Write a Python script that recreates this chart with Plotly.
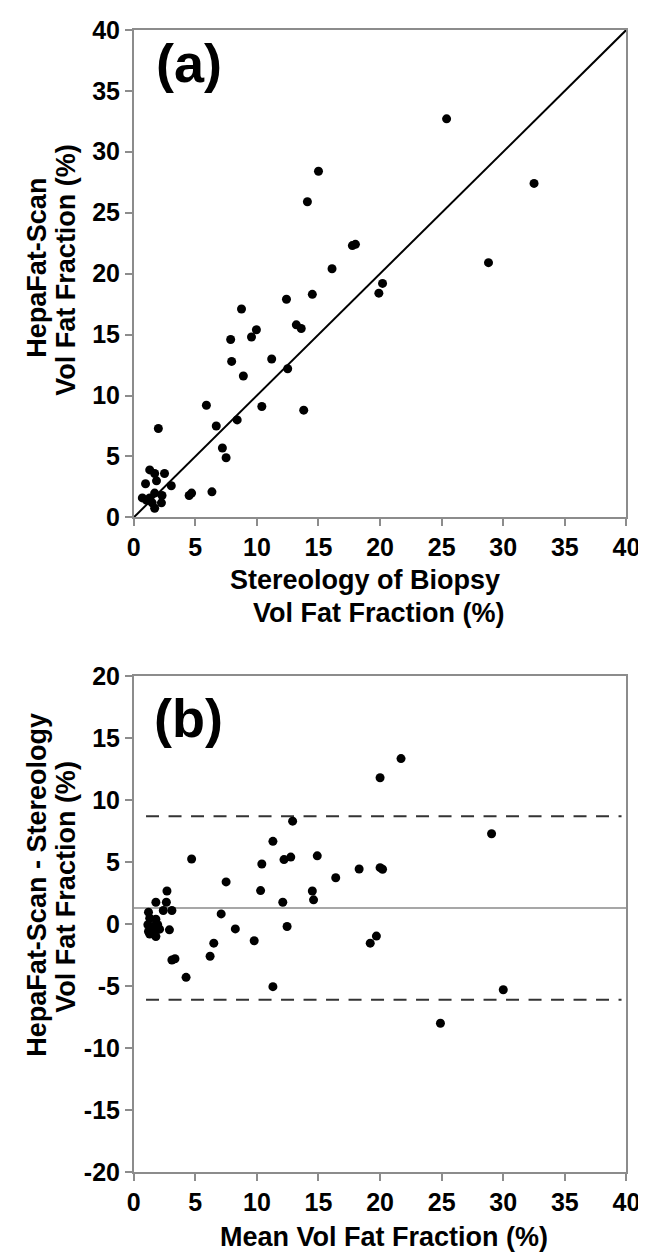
import plotly.graph_objects as go

# Panel (a): Stereology of biopsy (x) vs HepaFat-Scan (y), vol fat fraction %
stereology = [25.4, 32.5, 15.0, 14.1, 17.75, 18.0, 16.1, 28.8, 20.2, 19.9,
              8.75, 12.4, 14.5, 13.2, 13.6, 9.96, 9.56, 7.87, 7.95, 11.2,
              12.5, 8.9, 5.9, 10.4, 13.8, 8.4, 6.7, 2.0, 7.2, 7.5,
              1.3, 1.7, 2.5, 1.85, 0.96, 3.05, 4.5, 4.7, 6.35,
              0.7, 1.3, 1.7, 2.3, 1.5, 2.25, 1.7, 1.05]
hepafat = [32.7, 27.4, 28.4, 25.9, 22.3, 22.4, 20.4, 20.9, 19.2, 18.4,
           17.1, 17.9, 18.3, 15.8, 15.5, 15.4, 14.8, 14.6, 12.8, 13.0,
           12.2, 11.6, 9.2, 9.1, 8.8, 8.0, 7.5, 7.3, 5.7, 4.9,
           3.9, 3.6, 3.6, 3.0, 2.76, 2.6, 1.8, 2.0, 2.1,
           1.6, 1.6, 2.0, 1.8, 1.2, 1.2, 0.75, 1.4]

# Panel (b): Bland-Altman, mean (x) vs difference (y)
ba_mean = [4.7, 7.5, 7.1, 8.25, 10.3, 10.4, 11.3, 12.2, 12.75, 12.9,
           12.1, 12.45, 14.5, 14.6, 14.9, 21.7, 20.0, 29.05, 16.4, 18.3,
           20.0, 20.2, 9.78, 19.2, 19.7, 11.3, 30.0, 24.9,
           2.7, 1.8, 2.65, 2.4, 3.1,
           1.2, 1.3, 1.8, 1.15, 1.95, 1.2, 1.75, 2.1, 1.3, 1.8, 1.55,
           2.9, 6.5, 6.2, 3.1, 3.35, 4.25]
ba_diff = [5.25, 3.4, 0.82, -0.39, 2.7, 4.84, 6.67, 5.2, 5.4, 8.3,
           1.76, -0.2, 2.67, 1.95, 5.5, 13.35, 11.8, 7.28, 3.74, 4.44,
           4.55, 4.42, -1.35, -1.54, -0.97, -5.05, -5.3, -8.0,
           2.67, 1.76, 1.76, 1.09, 1.09,
           0.96, 0.47, 0.39, -0.06, -0.06, -0.6, -0.47, -0.41, -0.8, -1.0, -0.2,
           -0.47, -1.54, -2.6, -2.9, -2.8, -4.3]

mean_diff = 1.3
upper_loa = 8.7
lower_loa = -6.1

axis_ticks = [0, 5, 10, 15, 20, 25, 30, 35, 40]
diff_ticks = [-20, -15, -10, -5, 0, 5, 10, 15, 20]

W, H = 646, 1260
FONT = "Liberation Sans, Arial, Helvetica, sans-serif"

fig = go.Figure()

# (a) identity line
fig.add_trace(go.Scatter(x=[0, 40], y=[0, 40], mode="lines",
                         line=dict(color="black", width=2),
                         xaxis="x", yaxis="y", hoverinfo="skip"))
fig.add_trace(go.Scatter(x=stereology, y=hepafat, mode="markers",
                         marker=dict(color="black", size=9),
                         xaxis="x", yaxis="y"))

# (b) mean and limits of agreement
fig.add_trace(go.Scatter(x=[0, 40], y=[mean_diff, mean_diff], mode="lines",
                         line=dict(color="#8a8a8a", width=1.5),
                         xaxis="x2", yaxis="y2", hoverinfo="skip"))
for lv in (upper_loa, lower_loa):
    fig.add_trace(go.Scatter(x=[1, 39.6], y=[lv, lv], mode="lines",
                             line=dict(color="#333333", width=2, dash="13px,9.5px"),
                             xaxis="x2", yaxis="y2", hoverinfo="skip"))
fig.add_trace(go.Scatter(x=ba_mean, y=ba_diff, mode="markers",
                         marker=dict(color="black", size=9),
                         xaxis="x2", yaxis="y2"))

xdom = [122.7 / W, 632 / W]
ya_dom = [1 - 506.7 / H, 1 - 8 / H]
yb_dom = [1 - 1176.1 / H, 1 - 669.0 / H]

tickfont = dict(family=FONT, size=25, color="black")
common = dict(showgrid=False, zeroline=False, showline=True, mirror=True,
              linecolor="#8c8c8c", linewidth=1.5, ticks="outside",
              ticklen=7, tickcolor="#8c8c8c", tickwidth=1.5,
              tickfont=tickfont)

fig.update_layout(
    width=W, height=H,
    margin=dict(l=0, r=0, t=0, b=0),
    paper_bgcolor="white", plot_bgcolor="white",
    showlegend=False,
    xaxis=dict(domain=xdom, range=[0, 40], tickvals=axis_ticks,
               ticktext=[f"<b>{v}</b>" for v in axis_ticks], anchor="y", **common),
    yaxis=dict(domain=ya_dom, range=[0, 40], tickvals=axis_ticks,
               ticktext=[f"<b>{v}</b>" for v in axis_ticks], anchor="x", **common),
    xaxis2=dict(domain=xdom, range=[0, 40], tickvals=axis_ticks,
                ticktext=[f"<b>{v}</b>" for v in axis_ticks], anchor="y2", **common),
    yaxis2=dict(domain=yb_dom, range=[-20, 20], tickvals=diff_ticks,
                ticktext=[f"<b>{v}</b>" for v in diff_ticks], anchor="x2", **common),
)

def ann(text, px, py, size=27, angle=0):
    fig.add_annotation(text=f"<b>{text}</b>", x=px / W, y=1 - py / H,
                       xref="paper", yref="paper", showarrow=False,
                       textangle=angle, xanchor="center", yanchor="middle",
                       font=dict(family=FONT, size=size, color="black"))

# panel labels
ann("(a)", 180, 42, size=54)
ann("(b)", 179, 712, size=54)

# axis titles
ann("HepaFat-Scan", 23, 251, angle=-90)
ann("Vol Fat Fraction (%)", 53, 253, angle=-90)
ann("Stereology of Biopsy", 362, 571)
ann("Vol Fat Fraction (%)", 376, 604)
ann("HepaFat-Scan - Stereology", 23, 882, angle=-90)
ann("Vol Fat Fraction (%)", 53, 884, angle=-90)
ann("Mean Vol Fat Fraction (%)", 381, 1243)

fig.write_html("out.html")
